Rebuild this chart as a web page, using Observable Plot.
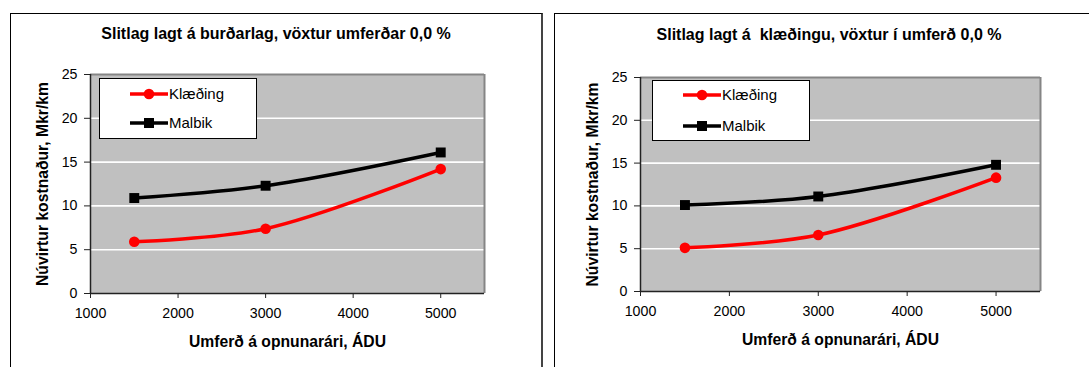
<!DOCTYPE html>
<html>
<head>
<meta charset="utf-8">
<script src="https://cdn.jsdelivr.net/npm/d3@7"></script>
<script src="https://cdn.jsdelivr.net/npm/@observablehq/plot@0.6"></script>
<style>
  html, body { margin: 0; padding: 0; background: #fff; }
  #root { position: relative; width: 1089px; height: 367px; overflow: hidden; font-family: "Liberation Sans", Arial, sans-serif; color: #000; }
  .panel { position: absolute; top: 13px; height: 400px; box-sizing: border-box; }
  .title { position: absolute; font-weight: bold; font-size: 16px; white-space: pre; transform: translate(-50%, -50%); }
  .legend { position: absolute; background: #fff; border: 1px solid #000; box-sizing: border-box; }
  .legend .row { position: absolute; left: 0; height: 20px; }
  .legend .row svg { position: absolute; left: 28px; top: 0; }
  .legend .row span { position: absolute; left: 69px; top: 1px; font-size: 15px; white-space: nowrap; }
  .chart { position: absolute; top: 0; }
  .chart svg { font-family: "Liberation Sans", Arial, sans-serif; color: #000; background: transparent; }
  .chart svg text { font-size: 14.2px !important; }
  .chart svg g[aria-label="x-axis label"] text, .chart svg g[aria-label="y-axis label"] text { font-weight: bold; font-size: 15.7px !important; }
</style>
</head>
<body>
<div id="root"></div>
<script>
// ---- data ----
const traffic = [1500, 3000, 5000];
const seriesNames = ["Klæðing", "Malbik"];
const klaedingA = [5.9, 7.4, 14.2];
const malbikA = [10.9, 12.3, 16.1];
const klaedingB = [5.1, 6.6, 13.3];
const malbikB = [10.1, 11.1, 14.8];
const xTicks = [1000, 2000, 3000, 4000, 5000];
const yTicks = [0, 5, 10, 15, 20, 25];
const gridTicks = [5, 10, 15, 20];
const titleA = "Slitlag lagt á burðarlag, vöxtur umferðar 0,0 %";
const titleB = "Slitlag lagt á  klæðingu, vöxtur í umferð 0,0 %";
const xLabel = "Umferð á opnunarári, ÁDU";
const yLabel = "Núvirtur kostnaður, Mkr/km";

const colors = {"Klæðing": "#ff0000", "Malbik": "#000000"};
const symbols = {"Klæðing": "circle", "Malbik": "square"};

function rows(k, m) {
  const out = [];
  traffic.forEach((t, i) => out.push({series: seriesNames[0], x: t, y: k[i]}));
  traffic.forEach((t, i) => out.push({series: seriesNames[1], x: t, y: m[i]}));
  return out;
}

function makeChart(data, width, m) {
  return Plot.plot({
    width, height: 367,
    marginLeft: m.left, marginRight: m.right, marginTop: m.top, marginBottom: m.bottom,
    style: {fontSize: "14.2px", background: "transparent", color: "#000"},
    x: {domain: [1000, 5500]},
    y: {domain: [0, 25]},
    marks: [
      Plot.frame({fill: "#c0c0c0", stroke: null}),
      Plot.ruleY(gridTicks, {stroke: "#fff", strokeWidth: 1.6}),
      Plot.ruleY([25], {stroke: "#858585", strokeWidth: 2}),
      Plot.ruleX([5500], {stroke: "#858585", strokeWidth: 2}),
      Plot.axisX({ticks: xTicks, tickSize: 5, tickPadding: 9, fontSize: 14.2, tickFormat: d => String(d), stroke: "#222",
        label: xLabel, labelAnchor: "center", labelArrow: "none", labelOffset: m.xLabelOffset}),
      Plot.axisY({ticks: yTicks, tickSize: 6, tickPadding: 7, fontSize: 14.2, tickFormat: d => String(d), stroke: "#222",
        label: yLabel, labelAnchor: "center", labelArrow: "none", labelOffset: m.yLabelOffset}),
      Plot.ruleX([1000], {stroke: "#222", strokeWidth: 1.5}),
      Plot.ruleY([0], {stroke: "#222", strokeWidth: 1.5}),
      Plot.line(data, {x: "x", y: "y", z: "series", stroke: d => colors[d.series], strokeWidth: 3.5, curve: "catmull-rom"}),
      Plot.dot(data.filter(d => d.series === seriesNames[0]), {x: "x", y: "y", r: 5.3, symbol: "circle", fill: colors[seriesNames[0]], stroke: null}),
      Plot.dot(data.filter(d => d.series === seriesNames[1]), {x: "x", y: "y", r: 5.6, symbol: "square", fill: colors[seriesNames[1]], stroke: null})
    ]
  });
}

const root = document.getElementById("root");

function addPanel(cfg) {
  const panel = document.createElement("div");
  panel.className = "panel";
  Object.assign(panel.style, cfg.panelStyle);
  root.appendChild(panel);

  const wrap = document.createElement("div");
  wrap.className = "chart";
  wrap.style.left = cfg.chartLeft + "px";
  wrap.appendChild(makeChart(cfg.data, cfg.width, cfg.margins));
  root.appendChild(wrap);

  const t = document.createElement("div");
  t.className = "title";
  t.textContent = cfg.title;
  t.style.left = cfg.titleX + "px";
  t.style.top = cfg.titleY + "px";
  root.appendChild(t);

  const lg = document.createElement("div");
  lg.className = "legend";
  Object.assign(lg.style, cfg.legendStyle);
  seriesNames.forEach((name, i) => {
    const row = document.createElement("div");
    row.className = "row";
    row.style.top = cfg.legendRows[i] + "px";
    const ns = "http://www.w3.org/2000/svg";
    const svg = document.createElementNS(ns, "svg");
    svg.setAttribute("width", 42); svg.setAttribute("height", 20);
    const ln = document.createElementNS(ns, "line");
    ln.setAttribute("x1", 2); ln.setAttribute("x2", 40); ln.setAttribute("y1", 10); ln.setAttribute("y2", 10);
    ln.setAttribute("stroke", colors[name]); ln.setAttribute("stroke-width", 3.5);
    svg.appendChild(ln);
    if (symbols[name] === "circle") {
      const c = document.createElementNS(ns, "circle");
      c.setAttribute("cx", 21); c.setAttribute("cy", 10); c.setAttribute("r", 5.3); c.setAttribute("fill", colors[name]);
      svg.appendChild(c);
    } else {
      const r = document.createElementNS(ns, "rect");
      r.setAttribute("x", 16); r.setAttribute("y", 5); r.setAttribute("width", 10); r.setAttribute("height", 10); r.setAttribute("fill", colors[name]);
      svg.appendChild(r);
    }
    row.appendChild(svg);
    const sp = document.createElement("span");
    sp.textContent = name;
    row.appendChild(sp);
    lg.appendChild(row);
  });
  root.appendChild(lg);
}

addPanel({
  panelStyle: {left: "10px", width: "533px", borderLeft: "1.5px solid #000", borderTop: "1.5px solid #000", borderRight: "2.5px solid #444"},
  chartLeft: 0, width: 545,
  margins: {left: 90, right: 61, top: 74, bottom: 74, xLabelOffset: 53, yLabelOffset: 54},
  data: rows(klaedingA, malbikA),
  title: titleA, titleX: 276, titleY: 34,
  legendStyle: {left: "99px", top: "78px", width: "158px", height: "61px"},
  legendRows: [5, 34]
});

addPanel({
  panelStyle: {left: "554px", width: "560px", borderLeft: "1.5px solid #000", borderTop: "1.5px solid #000"},
  chartLeft: 545, width: 544,
  margins: {left: 95, right: 49, top: 77, bottom: 76, xLabelOffset: 53, yLabelOffset: 54},
  data: rows(klaedingB, malbikB),
  title: titleB, titleX: 829, titleY: 35,
  legendStyle: {left: "652px", top: "80px", width: "158px", height: "61px"},
  legendRows: [4, 35]
});
</script>
</body>
</html>
